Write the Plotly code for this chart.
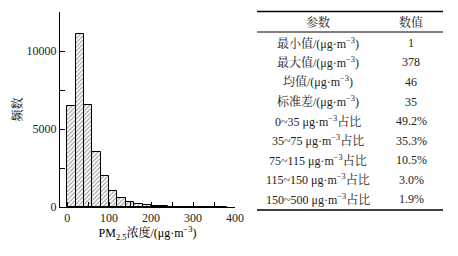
import plotly.graph_objects as go

# ---- data ----
bin_start = [0, 20, 40, 60, 80, 100, 120, 140, 160, 180, 200, 220, 240, 260, 280, 300, 320, 340, 360]
bin_width = 20
counts = [6450, 11100, 6550, 3550, 1970, 1000, 580, 320, 210, 150, 80, 35, 18, 10, 6, 4, 3, 2, 1]

x_ticks = [0, 100, 200, 300, 400]
y_ticks = [0, 5000, 10000]
y_tick_labels = ["0", "5000", "10000"]

table_header = ["参数", "数值"]
table_params = [
    "最小值/(μg·m<sup>−3</sup>)",
    "最大值/(μg·m<sup>−3</sup>)",
    "均值/(μg·m<sup>−3</sup>)",
    "标准差/(μg·m<sup>−3</sup>)",
    "0~35 μg·m<sup>−3</sup>占比",
    "35~75 μg·m<sup>−3</sup>占比",
    "75~115 μg·m<sup>−3</sup>占比",
    "115~150 μg·m<sup>−3</sup>占比",
    "150~500 μg·m<sup>−3</sup>占比",
]
table_values = ["1", "378", "46", "35", "49.2%", "35.3%", "10.5%", "3.0%", "1.9%"]

FONT = "Liberation Serif, Times New Roman, Noto Serif CJK SC, Noto Sans CJK SC, serif"

W, H = 458, 256
ML, MR, MT, MB = 60, 14, 12, 49
PW, PH = W - ML - MR, H - MT - MB


def px(x):
    return (x - ML) / PW


def py(y):
    return (H - MB - y) / PH


centers = [b + bin_width / 2 for b in bin_start]

fig = go.Figure()
fig.add_trace(go.Bar(
    x=centers, y=counts, width=bin_width,
    marker=dict(
        color="white",
        line=dict(color="black", width=1),
        pattern=dict(shape="/", fgcolor="#333", bgcolor="white", size=3, solidity=0.35),
    ),
    showlegend=False,
    hoverinfo="skip",
))

fig.update_layout(
    width=W, height=H,
    margin=dict(l=ML, r=MR, t=MT, b=MB, autoexpand=False),
    paper_bgcolor="white", plot_bgcolor="white",
    font=dict(family=FONT, size=12, color="black"),
    bargap=0,
    xaxis=dict(
        domain=[0, (235 - ML) / PW],
        range=[-17, 400],
        tickvals=x_ticks,
        ticks="inside", ticklen=5, tickwidth=1, tickcolor="black",
        minor=dict(ticks="inside", ticklen=5, dtick=50, tickcolor="black"),
        showline=True, linecolor="black", linewidth=1,
        showgrid=False, zeroline=False, automargin=False,
        title=dict(text="PM<sub>2.5</sub>浓度/(μg·m<sup>−3</sup>)", standoff=2, font=dict(size=12)),
        tickfont=dict(size=12, color="#222"),
    ),
    yaxis=dict(
        range=[0, 12500],
        tickvals=y_ticks,
        ticktext=y_tick_labels,
        ticks="inside", ticklen=5, tickwidth=1, tickcolor="black",
        minor=dict(ticks="inside", ticklen=5, dtick=2500, tickcolor="black"),
        showline=True, linecolor="black", linewidth=1,
        showgrid=False, zeroline=False, automargin=False,
        title=dict(text="频数", standoff=1, font=dict(size=12)),
        tickfont=dict(size=12, color="#222"),
    ),
)

# ---- table ----
col1_x, col2_x = 318, 411
tbl_left, tbl_right = 257, 443
header_y = 22
row0_y, row_step = 43, 19.5

annotations = []
annotations.append(dict(x=px(col1_x), y=py(header_y), text=table_header[0]))
annotations.append(dict(x=px(col2_x), y=py(header_y), text=table_header[1]))
for i, (p, v) in enumerate(zip(table_params, table_values)):
    yy = py(row0_y + i * row_step)
    annotations.append(dict(x=px(col1_x), y=yy, text=p))
    annotations.append(dict(x=px(col2_x), y=yy, text=v))
for a in annotations:
    a.update(xref="paper", yref="paper", showarrow=False, xanchor="center", yanchor="middle",
             font=dict(family=FONT, size=12, color="#222"))
fig.update_layout(annotations=annotations)

for yline, w in [(11.5, 1.3), (32, 1), (210, 1.3)]:
    fig.add_shape(type="line", xref="paper", yref="paper",
                  x0=px(tbl_left), x1=px(tbl_right), y0=py(yline), y1=py(yline),
                  line=dict(color="black", width=w))

fig.write_html("out.html", config={"displayModeBar": False},
               post_script="document.body.style.margin='0';document.body.style.overflow='hidden';")
